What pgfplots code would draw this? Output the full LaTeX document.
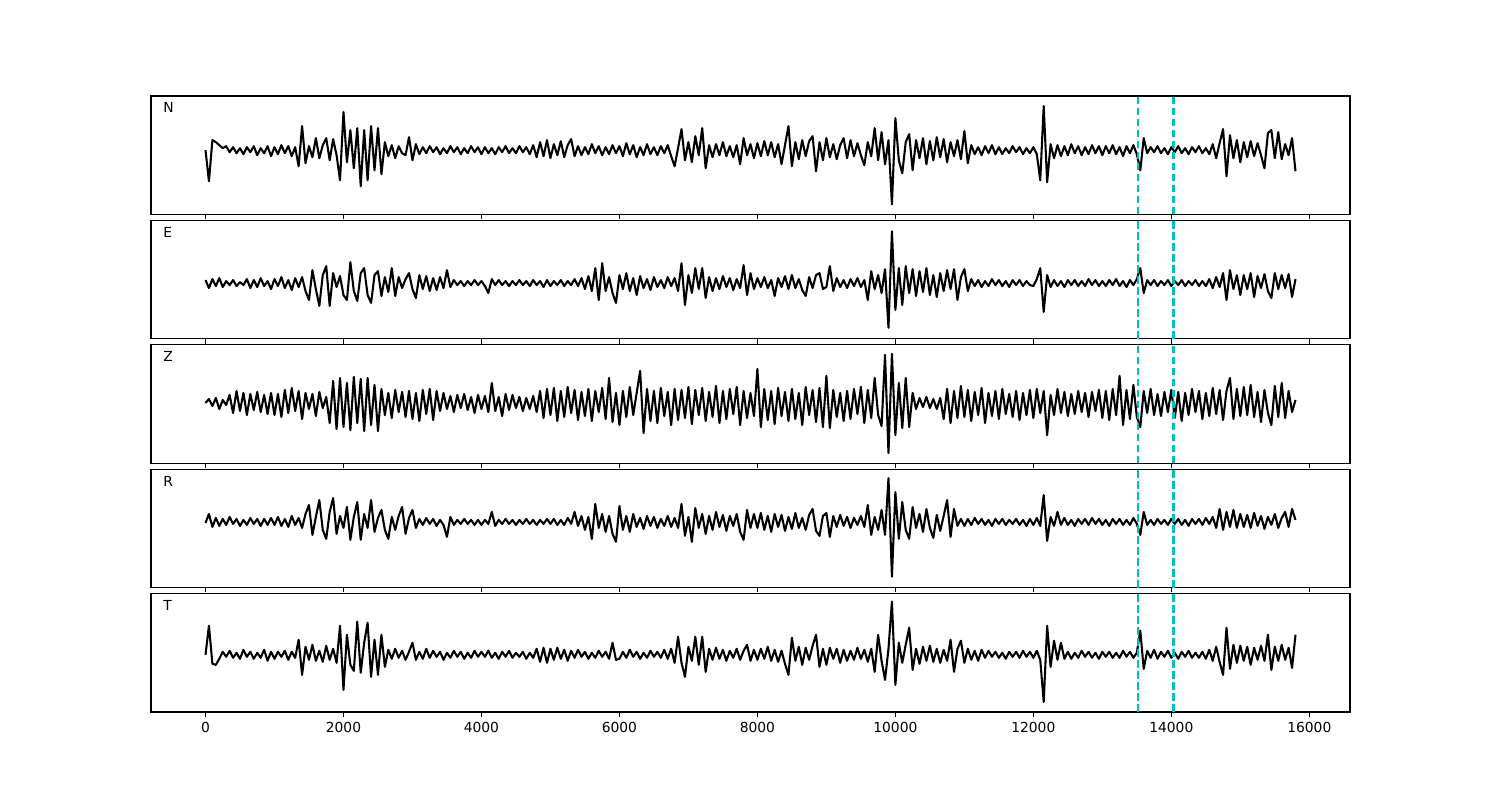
\documentclass[border=0pt]{standalone}
\usepackage{fontspec}
\setmainfont{DejaVu Sans}
\usepackage{pgfplots}
\usepackage{pgfplotstable}
\pgfplotsset{compat=1.18}
\definecolor{cc}{rgb}{0,0.75,0.75}
\pgfplotstableread{
x N E Z R T
0 0 3 0 -1 0
50 -31 -5 4 8 29
100 10 4 -3 -5 -9
150 8 -3 5 4 -10
200 5 5 -6 -4 -4
250 2 -4 3 3 3
300 4 2 -2 -3 -2
350 -2 -2 8 5 4
400 3 3 -10 -2 -3
450 -3 -3 12 3 2
500 2 1 -8 -4 -4
550 -4 -2 10 2 5
600 3 4 -12 -3 -2
650 -2 -5 9 4 3
700 4 3 -7 -2 -4
750 -5 -4 11 3 2
800 2 5 -9 -4 -3
850 -3 -3 8 3 5
900 4 2 -11 -3 -6
950 -6 -6 10 4 3
1000 3 4 -12 -3 -4
1050 -4 -3 9 5 3
1100 5 6 -14 -4 -2
1150 -3 -5 13 3 4
1200 4 3 -10 -5 -5
1250 -6 -7 15 6 3
1300 3 5 -8 -3 -3
1350 -16 -4 12 4 15
1400 24 6 -16 -6 -20
1450 -13 -8 10 8 8
1500 4 -17 -6 17 -5
1550 -7 13 9 -13 10
1600 12 -6 -13 5 -6
1650 -8 -23 11 22 4
1700 5 8 -5 -8 -7
1750 12 17 6 -17 9
1800 -10 -23 -20 10 -5
1850 11 10 22 24 6
1900 -5 -4 -26 -12 -8
1950 -30 7 25 6 29
2000 38 -12 -24 -6 -35
2050 -12 -17 20 15 20
2100 20 21 -27 -18 -10
2150 -18 -8 26 5 -16
2200 22 -18 -20 20 33
2250 -36 10 24 -18 -18
2300 20 15 -28 8 12
2350 -30 -12 25 -6 32
2400 24 -20 -22 22 -22
2450 -20 8 18 -10 15
2500 22 12 -28 4 -20
2550 -24 -13 14 12 20
2600 8 6 -12 -8 -12
2650 -6 -9 10 -17 5
2700 5 15 -15 5 -4
2750 -8 -13 13 -8 6
2800 4 6 -9 6 -3
2850 -3 -5 11 15 4
2900 -5 4 -14 -12 -5
2950 13 10 12 4 3
3000 -10 -6 -16 12 12
3050 6 -15 10 -6 -5
3100 -4 8 -18 3 3
3150 3 -6 13 -3 -4
3200 -3 7 -11 4 6
3250 4 -8 14 -2 -3
3300 -2 5 -17 3 4
3350 3 -7 12 -4 -2
3400 -4 6 -8 2 3
3450 2 -5 10 -3 -5
3500 -3 13 -6 -15 2
3550 4 -4 7 5 -3
3600 -2 3 -9 -3 4
3650 3 -2 8 2 -2
3700 -4 2 -5 -2 3
3750 2 -3 9 3 -4
3800 -3 2 -7 -2 2
3850 4 -2 6 2 -3
3900 -2 3 -10 -3 4
3950 3 -2 8 2 -2
4000 -4 2 -6 -3 3
4050 3 -3 7 2 -2
4100 -3 -10 -9 -2 4
4150 2 4 20 10 -3
4200 -4 -2 -8 -4 2
4250 3 3 6 2 -4
4300 -2 -2 -13 -2 3
4350 4 2 9 3 -2
4400 -3 -3 -7 -2 4
4450 2 2 8 2 -3
4500 -3 -2 -5 -3 2
4550 4 3 6 2 -2
4600 -2 -2 -8 -2 3
4650 3 2 5 3 -4
4700 -4 -3 -6 -2 2
4750 5 3 7 2 -3
4800 -7 -2 -9 -3 6
4850 8 2 12 2 -7
4900 -6 -4 -15 -2 7
4950 10 3 14 3 -8
5000 -8 -3 -12 -2 6
5050 6 2 15 3 -5
5100 -5 -2 -18 -3 7
5150 9 3 12 2 -4
5200 -7 -3 -14 -3 5
5250 5 2 16 4 -6
5300 11 -2 -10 -2 4
5350 -6 4 13 10 -3
5400 4 -3 -17 -4 5
5450 -5 5 11 6 -2
5500 3 -6 -13 -8 3
5550 -4 7 14 5 -4
5600 6 -8 -18 -17 2
5650 -3 15 12 18 -3
5700 4 -17 -9 -6 4
5750 -5 20 15 8 -2
5800 3 -8 -16 -10 3
5850 -4 6 25 6 -4
5900 5 -10 -19 -12 12
5950 -3 -20 10 -20 -5
6000 4 8 -22 16 -4
6050 -6 -6 12 -8 3
6100 7 10 -14 6 -3
6150 -4 -8 16 -10 5
6200 5 5 -12 8 -2
6250 -7 -12 10 -5 3
6300 3 7 32 4 -4
6350 -5 -5 -30 -7 2
6400 6 4 14 6 -3
6450 -4 -7 -18 -4 4
6500 3 6 12 5 -2
6550 -5 -4 -20 -6 3
6600 4 3 15 3 -3
6650 -3 -5 -13 -4 5
6700 5 6 11 6 -4
6750 -6 -3 -22 -5 6
6800 -16 5 14 4 -8
6850 2 -8 -17 -6 18
6900 21 20 13 18 -8
6950 -10 -22 -15 -14 -22
7000 8 8 16 5 8
7050 -12 -10 -21 -20 -6
7100 14 15 13 14 18
7150 -5 -6 -12 -6 -10
7200 22 15 15 8 18
7250 -18 -15 -18 -12 -17
7300 5 6 11 6 6
7350 -7 -8 -14 -8 -5
7400 6 5 17 10 7
7450 -5 -6 -20 -5 -4
7500 8 7 12 7 5
7550 -6 -4 -16 -9 -6
7600 4 5 14 6 4
7650 -7 -7 -11 -4 -3
7700 5 4 16 8 6
7750 -14 -5 -22 -10 -5
7800 12 18 12 -18 4
7850 -5 -12 -15 12 10
7900 6 10 10 -6 -6
7950 -8 -6 -13 8 5
8000 7 5 34 -6 -5
8050 -6 -4 -24 9 6
8100 9 6 14 -8 -4
8150 -5 -5 -17 6 8
8200 8 3 12 -10 -6
8250 -7 -13 -21 8 5
8300 6 5 15 -5 -7
8350 -14 -4 -13 7 4
8400 5 7 11 -9 -9
8450 24 -6 -18 5 -20
8500 -16 8 14 -7 17
8550 8 -5 -16 9 -6
8600 -9 4 10 -6 8
8650 10 -7 -22 4 -10
8700 -6 -13 16 -8 7
8750 9 6 -12 7 -5
8800 14 -5 13 13 9
8850 -21 8 -19 -9 20
8900 8 10 15 -14 -12
8950 -10 -6 -24 6 6
9000 12 -4 27 9 -10
9050 -7 17 -25 -15 7
9100 6 -8 13 6 -4
9150 -9 5 -14 -5 6
9200 5 -4 10 7 -8
9250 12 3 -18 -4 5
9300 -8 -5 12 5 -6
9350 10 4 -16 -6 4
9400 -6 -3 14 4 -5
9450 7 5 -11 -3 7
9500 -5 -4 16 6 -4
9550 -15 3 -20 -5 5
9600 8 -17 13 17 -7
9650 -6 12 -15 -13 6
9700 22 -6 25 5 -17
9750 -10 8 -12 -8 20
9800 18 -10 -23 12 -6
9850 -14 14 48 -13 -25
9900 10 -45 -50 44 6
9950 -54 52 49 -55 53
10000 32 -27 -32 30 -30
10050 -10 15 20 -17 12
10100 -23 -22 -25 20 -8
10150 8 17 25 -8 10
10200 16 -10 -24 -17 27
10250 -20 14 10 15 -15
10300 10 -13 -6 -6 6
10350 -8 12 5 8 -9
10400 12 -9 -4 -10 8
10450 -14 15 6 13 -6
10500 9 -12 -5 -6 9
10550 -10 8 4 -16 -7
10600 13 -14 -6 7 6
10650 -7 10 5 -9 -8
10700 11 -8 -16 6 5
10750 -12 13 14 22 -6
10800 8 -6 -20 -15 15
10850 -6 14 12 13 -17
10900 10 -17 -15 -4 6
10950 -9 6 17 3 14
11000 19 14 -14 -4 -8
11050 -13 -8 13 3 6
11100 5 4 -18 -3 -5
11150 -4 -3 11 4 4
11200 3 3 -12 -2 -6
11250 -5 -4 15 3 5
11300 4 2 -20 -3 -3
11350 -3 -3 10 2 4
11400 5 4 -13 -4 -2
11450 -4 -2 12 3 3
11500 3 3 -16 -2 -3
11550 -4 -3 14 3 2
11600 2 2 -11 -3 -4
11650 -3 -4 9 2 3
11700 4 3 -14 -2 -2
11750 -2 -2 12 3 3
11800 3 3 -17 -3 -3
11850 -4 -3 10 2 4
11900 2 2 -12 -4 -2
11950 -3 -2 13 3 3
12000 3 -3 -15 -3 -3
12050 -4 4 14 4 4
12100 -30 15 -10 -4 -5
12150 44 -29 12 27 -47
12200 -32 8 -32 -19 29
12250 6 -4 8 5 -12
12300 -8 3 -12 -4 14
12350 5 -3 14 10 -5
12400 -6 2 -10 -3 12
12450 4 -4 11 4 -4
12500 -5 3 -13 -3 3
12550 6 -2 9 2 -4
12600 -3 3 -11 -4 2
12650 4 -3 12 3 -3
12700 -5 2 -9 -2 4
12750 3 -3 10 3 -2
12800 -4 4 -14 -3 3
12850 5 -2 11 4 -3
12900 -3 3 -8 -2 2
12950 4 -3 13 3 -4
13000 -5 2 -15 -3 3
13050 4 -3 12 2 -2
13100 -3 3 -17 -4 3
13150 5 -2 14 3 -3
13200 -4 4 -12 -2 2
13250 3 -3 27 3 -3
13300 -6 2 -22 -3 4
13350 4 -4 13 2 -2
13400 -3 3 -16 -3 3
13450 5 -2 18 4 -3
13500 -4 4 -14 -2 2
13550 -20 15 -24 -13 24
13600 12 -10 12 10 -14
13650 -3 3 -10 -3 4
13700 3 -2 14 2 -3
13750 -2 3 -12 -3 5
13800 4 -3 9 3 -4
13850 -3 2 -13 -2 3
13900 2 -2 11 2 -2
13950 -4 3 -9 -3 4
14000 3 -3 13 3 -3
14050 -2 2 -15 -2 2
14100 4 -2 11 3 -4
14150 -3 3 -18 -3 3
14200 2 -3 10 2 -2
14250 -4 2 -12 -4 4
14300 3 -2 14 3 -3
14350 -2 3 -9 -2 2
14400 4 -3 12 3 -3
14450 -3 2 -16 -3 3
14500 2 -3 10 4 -4
14550 -4 4 -13 -2 5
14600 6 -5 15 5 -6
14650 -8 6 -11 -6 8
14700 7 -4 13 13 -7
14750 21 10 -17 -8 -20
14800 -26 -17 12 10 27
14850 15 13 25 -5 -14
14900 -8 -6 -16 12 10
14950 10 8 14 -6 -8
15000 -12 -12 -13 8 9
15050 8 8 16 -5 -6
15100 -7 -6 -12 7 8
15150 9 10 18 -6 -10
15200 -6 -14 -14 9 7
15250 7 7 11 -4 -5
15300 -5 -5 -19 6 9
15350 -18 9 13 -7 -6
15400 17 -8 -10 5 20
15450 20 -15 -22 -3 -15
15500 -8 10 17 8 8
15550 18 -6 -14 -6 -6
15600 -9 8 20 4 10
15650 6 -5 -15 10 -5
15700 -5 9 12 -5 7
15750 12 -14 -9 13 -13
15800 -21 4 3 2 20
}\wave

\pgfplotsset{
  panel/.style={
    scale only axis, width=11.99in, height=1.184in,
    anchor=north west,
    xmin=-790, xmax=16590,
    xtick={0,2000,...,16000}, ytick=\empty,
    scaled x ticks=false,
    tick align=outside, xtick pos=left,
    major tick length=3.5pt,
    axis line style={line width=0.8pt},
    every tick/.style={black, line width=0.8pt},
    /pgf/number format/1000 sep={},
    /pgf/number format/assume math mode=true,
    xticklabel style={font=\fontsize{10}{12}\selectfont},
  },
  nolab/.style={xticklabels={}},
  trace/.style={black, line width=1.5pt, line join=round},
  pick/.style={cc, line width=1.6pt, dash pattern=on 5.55pt off 2.4pt},
}
\tikzset{lab/.style={anchor=west, inner sep=0pt, font=\fontsize{10}{12}\selectfont}}

\begin{document}
\begin{tikzpicture}
\useasboundingbox (0,0) rectangle (15in,8in);

\begin{axis}[panel, nolab, at={(1.51in,7.04in)}, ymin=-64, ymax=54]
\addplot[trace] table[x=x, y=N] {\wave};
\addplot[pick] coordinates {(13520,-64) (13520,54)};
\addplot[pick] coordinates {(14030,-64) (14030,54)};
\node[lab] at (rel axis cs:0.01,0.9) {N};
\end{axis}

\begin{axis}[panel, nolab, at={(1.51in,5.796in)}, ymin=-56, ymax=63]
\addplot[trace] table[x=x, y=E] {\wave};
\addplot[pick] coordinates {(13520,-56) (13520,63)};
\addplot[pick] coordinates {(14030,-56) (14030,63)};
\node[lab] at (rel axis cs:0.01,0.9) {E};
\end{axis}

\begin{axis}[panel, nolab, at={(1.51in,4.552in)}, ymin=-60, ymax=58]
\addplot[trace] table[x=x, y=Z] {\wave};
\addplot[pick] coordinates {(13520,-60) (13520,58)};
\addplot[pick] coordinates {(14030,-60) (14030,58)};
\node[lab] at (rel axis cs:0.01,0.9) {Z};
\end{axis}

\begin{axis}[panel, nolab, at={(1.51in,3.308in)}, ymin=-66, ymax=53]
\addplot[trace] table[x=x, y=R] {\wave};
\addplot[pick] coordinates {(13520,-66) (13520,53)};
\addplot[pick] coordinates {(14030,-66) (14030,53)};
\node[lab] at (rel axis cs:0.01,0.9) {R};
\end{axis}

\begin{axis}[panel, at={(1.51in,2.064in)}, ymin=-57, ymax=61]
\addplot[trace] table[x=x, y=T] {\wave};
\addplot[pick] coordinates {(13520,-57) (13520,61)};
\addplot[pick] coordinates {(14030,-57) (14030,61)};
\node[lab] at (rel axis cs:0.01,0.9) {T};
\end{axis}
\end{tikzpicture}
\end{document}
